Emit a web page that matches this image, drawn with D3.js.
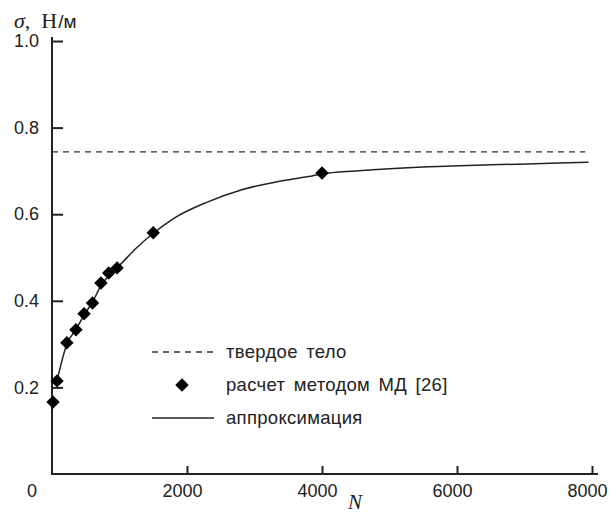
<!DOCTYPE html>
<html lang="ru">
<head>
<meta charset="UTF-8">
<title>sigma vs N</title>
<script src="https://d3js.org/d3.v7.min.js"></script>
<style>
  body { margin: 0; background: #fff; }
  svg { display: block; }
  .tick text { font-family: "Liberation Sans", Arial, sans-serif; font-size: 18px; fill: #222; }
  .legend text { font-family: "Liberation Sans", Arial, sans-serif; font-size: 18.5px; fill: #222; letter-spacing: 0.3px; word-spacing: 3px; }
</style>
</head>
<body>
<svg width="612" height="516"></svg>
<script>
// MD points
var mdN     = [15, 75, 220, 355, 475, 600, 725, 840, 965, 1500, 4000];
var mdSigma = [0.166, 0.215, 0.303, 0.333, 0.370, 0.395, 0.441, 0.464, 0.476, 0.557, 0.695];

// approximation curve
var fitN     = [75, 220, 360, 480, 600, 730, 850, 1000, 1250, 1500, 1800, 2300, 2800, 3300, 3800, 4000, 4500, 5500, 6500, 7500, 7950];
var fitSigma = [0.215, 0.300, 0.335, 0.368, 0.397, 0.436, 0.460, 0.482, 0.522, 0.556, 0.590, 0.628, 0.656, 0.674, 0.687, 0.693, 0.700, 0.709, 0.714, 0.718, 0.720];

// solid body level
var solidSigma = 0.744;
var solidRange = [0, 7900];

var xTicks = [2000, 4000, 6000, 8000];
var yTicks = [0.2, 0.4, 0.6, 0.8, 1.0];

var legendLabels = ["твердое тело", "расчет методом МД [26]", "аппроксимация"];

var svg = d3.select("svg");

var x = d3.scaleLinear().domain([0, 8000]).range([52, 592]);
var y = d3.scaleLinear().domain([0, 1]).range([474, 41]);

var ink = "#222";

// axes lines
svg.append("line")
    .attr("x1", x(0)).attr("x2", x(0))
    .attr("y1", y(0) + 1).attr("y2", y(1) - 4)
    .attr("stroke", ink).attr("stroke-width", 2);
svg.append("line")
    .attr("x1", x(0) - 1).attr("x2", x(8000) + 6)
    .attr("y1", y(0)).attr("y2", y(0))
    .attr("stroke", ink).attr("stroke-width", 2);

var ya = svg.append("g")
    .attr("transform", "translate(" + x(0) + ",0)")
    .call(d3.axisLeft(y).tickValues(yTicks).tickSize(-11).tickPadding(13)
        .tickFormat(d3.format(".1f")));
ya.select(".domain").remove();
ya.selectAll(".tick line").attr("stroke", ink).attr("stroke-width", 2);

var xa = svg.append("g")
    .attr("transform", "translate(0," + y(0) + ")")
    .call(d3.axisBottom(x).tickValues(xTicks).tickSize(-8).tickPadding(10)
        .tickFormat(d3.format("d")));
xa.select(".domain").remove();
xa.selectAll(".tick line").attr("stroke", ink).attr("stroke-width", 2);
xa.selectAll(".tick text").attr("x", -5);

// origin label
svg.append("text")
    .attr("x", x(0) - 20).attr("y", y(0) + 23)
    .attr("text-anchor", "middle")
    .attr("font-family", "Liberation Sans, Arial, sans-serif")
    .attr("font-size", 18).attr("fill", ink)
    .text("0");

// axis titles
var yt = svg.append("text")
    .attr("x", 14).attr("y", 28)
    .attr("font-family", "Liberation Serif, serif")
    .attr("font-size", 22).attr("fill", ink)
    .attr("xml:space", "preserve");
yt.append("tspan").attr("font-style", "italic").text("σ");
yt.append("tspan").text(",  Н");
yt.append("tspan").attr("font-family", "Liberation Sans, Arial, sans-serif").attr("font-size", 19).attr("dx", 1).text("/м");

svg.append("text")
    .attr("x", 355).attr("y", 509)
    .attr("text-anchor", "middle")
    .attr("font-family", "Liberation Serif, serif")
    .attr("font-style", "italic")
    .attr("font-size", 21).attr("fill", ink)
    .text("N");

// solid body dashed line
svg.append("line")
    .attr("x1", x(solidRange[0])).attr("x2", x(solidRange[1]))
    .attr("y1", y(solidSigma)).attr("y2", y(solidSigma))
    .attr("stroke", "#333").attr("stroke-width", 1.4)
    .attr("stroke-dasharray", "6,5");

// approximation
var fit = fitN.map(function(d, i) { return [d, fitSigma[i]]; });
svg.append("path")
    .datum(fit)
    .attr("fill", "none")
    .attr("stroke", ink)
    .attr("stroke-width", 1.5)
    .attr("d", d3.line()
        .x(function(d) { return x(d[0]); })
        .y(function(d) { return y(d[1]); })
        .curve(d3.curveMonotoneX));

// MD diamonds
var diamond = d3.symbol().type(d3.symbolDiamond2).size(115);
svg.append("g").selectAll("path")
    .data(mdN.map(function(d, i) { return [d, mdSigma[i]]; }))
    .enter().append("path")
    .attr("d", diamond)
    .attr("transform", function(d) { return "translate(" + x(d[0]) + "," + y(d[1]) + ")"; })
    .attr("fill", "#000");

// legend
var lg = svg.append("g").attr("class", "legend");
var rows = [352, 385, 418];
lg.append("line")
    .attr("x1", 152).attr("x2", 214).attr("y1", rows[0]).attr("y2", rows[0])
    .attr("stroke", "#333").attr("stroke-width", 1.4).attr("stroke-dasharray", "6,5");
lg.append("path")
    .attr("d", diamond)
    .attr("transform", "translate(182," + rows[1] + ")")
    .attr("fill", "#000");
lg.append("line")
    .attr("x1", 152).attr("x2", 214).attr("y1", rows[2]).attr("y2", rows[2])
    .attr("stroke", ink).attr("stroke-width", 1.5);
lg.selectAll("text")
    .data(legendLabels)
    .enter().append("text")
    .attr("x", 226)
    .attr("y", function(d, i) { return rows[i]; })
    .attr("dy", "0.35em")
    .text(function(d) { return d; });
</script>
</body>
</html>
